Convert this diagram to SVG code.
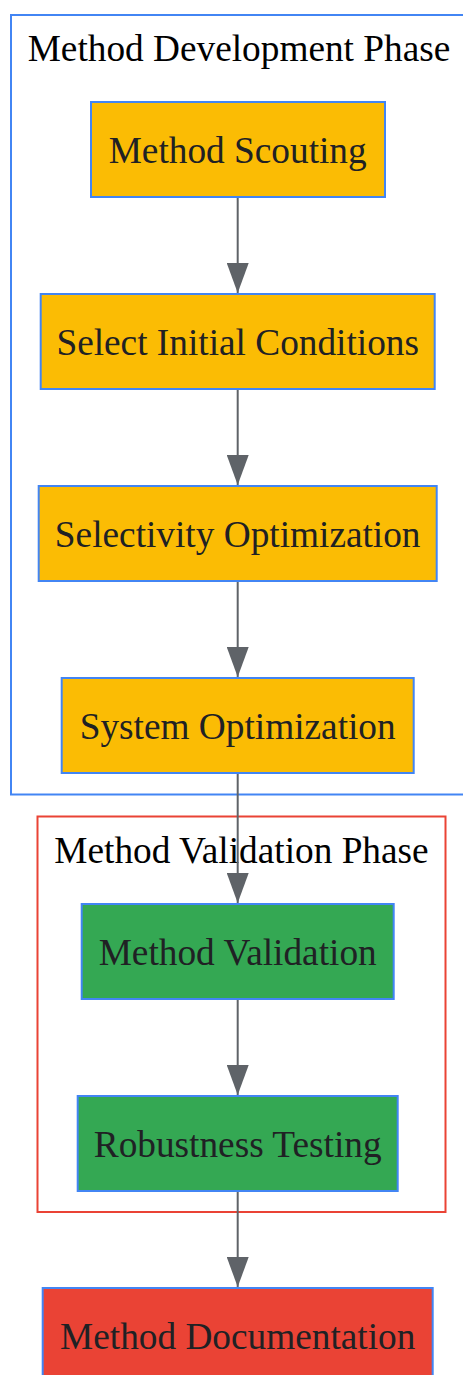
<svg xmlns="http://www.w3.org/2000/svg" width="463" height="1375" viewBox="0 0 463 1375">
<style>
.cluster{fill:none;stroke-width:2}
.node rect{stroke:#4285F4;stroke-width:2}
.node text{font-family:"Liberation Serif","Times New Roman",serif;font-size:37.3px;fill:#202124;text-anchor:middle}
.ctitle{font-family:"Liberation Serif","Times New Roman",serif;font-size:37.3px;fill:#000;text-anchor:middle}
.edge{stroke:#5F6368;stroke-width:2;fill:none}
</style>
<defs>
<marker id="arrow" markerUnits="userSpaceOnUse" markerWidth="30" markerHeight="22" refX="30" refY="11" orient="auto" viewBox="0 0 30 22">
<path d="M0,0 L30,11 L0,22 Z" fill="#5F6368"/>
</marker>
</defs>
<g id="cluster-dev">
<rect class="cluster" x="11" y="15" width="456" height="779.5" stroke="#4285F4"/>
<text class="ctitle" x="239" y="61">Method Development Phase</text>
</g>
<g id="cluster-val">
<rect class="cluster" x="37.5" y="816.5" width="408" height="395.5" stroke="#EA4335"/>
<text class="ctitle" x="241.5" y="863">Method Validation Phase</text>
</g>
<g id="edges">
<path class="edge" d="M237.7,198 V293" marker-end="url(#arrow)"/>
<path class="edge" d="M237.7,390 V485" marker-end="url(#arrow)"/>
<path class="edge" d="M237.7,582 V677" marker-end="url(#arrow)"/>
<path class="edge" d="M237.7,774 V903" marker-end="url(#arrow)"/>
<path class="edge" d="M237.7,1000 V1095" marker-end="url(#arrow)"/>
<path class="edge" d="M237.7,1192 V1287" marker-end="url(#arrow)"/>
</g>
<g id="n1" class="node"><rect x="91" y="102" width="294" height="95" fill="#FBBC04"/><text x="237.7" y="162.5">Method Scouting</text></g>
<g id="n2" class="node"><rect x="40.7" y="294" width="394" height="95" fill="#FBBC04"/><text x="237.7" y="354.5">Select Initial Conditions</text></g>
<g id="n3" class="node"><rect x="38.7" y="486" width="398" height="95" fill="#FBBC04"/><text x="237.7" y="546.5">Selectivity Optimization</text></g>
<g id="n4" class="node"><rect x="61.7" y="678" width="352" height="95" fill="#FBBC04"/><text x="237.7" y="738.5">System Optimization</text></g>
<g id="n5" class="node"><rect x="81.7" y="904" width="312" height="95" fill="#34A853"/><text x="237.7" y="964.5">Method Validation</text></g>
<g id="n6" class="node"><rect x="77.7" y="1096" width="320" height="95" fill="#34A853"/><text x="237.7" y="1156.5">Robustness Testing</text></g>
<g id="n7" class="node"><rect x="42.7" y="1288" width="390" height="95" fill="#EA4335"/><text x="237.7" y="1348.5">Method Documentation</text></g>
</svg>
